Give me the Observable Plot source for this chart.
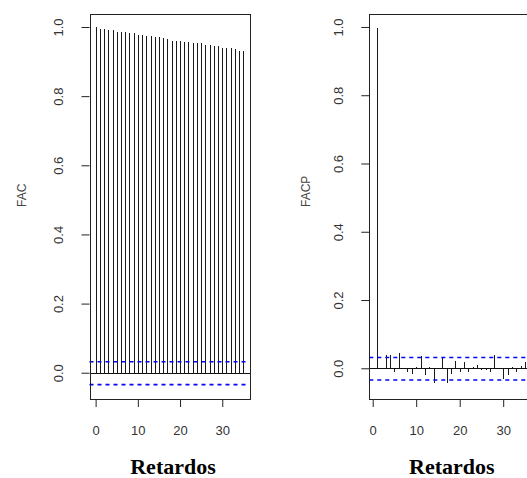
<!DOCTYPE html>
<html><head><meta charset="utf-8">
<script src="https://cdn.jsdelivr.net/npm/d3@7"></script>
<script src="https://cdn.jsdelivr.net/npm/@observablehq/plot@0.6"></script>
<style>
html,body{margin:0;padding:0;background:#fff;overflow:hidden;}
#wrap{position:relative;width:527px;height:478px;overflow:hidden;}
#wrap svg{position:absolute;top:0;}
</style></head><body><div id="wrap"></div>
<script>
const acfLags = d3.range(0, 36);
const acfValues = [1.000, 0.993, 0.993, 0.990, 0.990, 0.986, 0.986, 0.985, 0.982, 0.982,
  0.978, 0.978, 0.975, 0.975, 0.970, 0.970, 0.968, 0.965, 0.960, 0.960,
  0.960, 0.957, 0.957, 0.953, 0.953, 0.953, 0.948, 0.948, 0.944, 0.944,
  0.939, 0.939, 0.939, 0.935, 0.932, 0.930];
const pacfLags = d3.range(1, 36);
const pacfValues = [0.998, 0.002, 0.039, 0.039, -0.010, 0.044, -0.003, -0.010, -0.017, 0.005,
  0.036, -0.020, 0.003, -0.044, 0.002, 0.031, -0.044, -0.017, 0.022, -0.012,
  0.019, -0.010, 0.005, 0.010, -0.005, -0.005, -0.010, 0.040, -0.002, -0.032,
  -0.020, 0.003, -0.010, 0.007, 0.017];
const ciBound = 0.033;
const xTicks = [0, 10, 20, 30];
const yTicks = [0, 0.2, 0.4, 0.6, 0.8, 1.0];
const panelLabels = ["FAC", "FACP"];
const xLabel = "Retardos";

function panel({lags, values, yLabel, width, left, marginLeft, marginRight, xDomain, yDomain, labelDx, xLabelDx}) {
  const data = lags.map((l, i) => ({lag: l, value: values[i]}));
  const svg = Plot.plot({
    width, height: 478,
    marginLeft, marginRight, marginTop: 14, marginBottom: 79,
    style: {fontFamily: "'Liberation Sans', Arial, sans-serif", fontSize: "12px", background: "white", color: "#222"},
    x: {domain: xDomain},
    y: {domain: yDomain},
    marks: [
      Plot.ruleX(data, {x: "lag", y1: 0, y2: "value", stroke: "#1a1a1a", strokeWidth: 1, shapeRendering: "crispEdges"}),
      Plot.ruleY([0], {stroke: "#111", shapeRendering: "crispEdges"}),
      Plot.ruleY([ciBound], {stroke: "#0000ff", strokeWidth: 1.6, strokeDasharray: "4,4"}),
      Plot.ruleY([-ciBound], {stroke: "#0000ff", strokeWidth: 1.6, strokeDasharray: "4,4"}),
      Plot.frame({stroke: "#222", shapeRendering: "crispEdges"}),
      Plot.axisX(xTicks, {tickSize: 8, tickPadding: 18, fontSize: 13, tickFormat: d => String(d), label: null, stroke: "#222", fill: "#333"}),
      Plot.axisY(yTicks, {tickSize: 8, tickRotate: -90, textAnchor: "middle", lineAnchor: "middle", tickPadding: 23, fontSize: 13, tickFormat: d3.format(".1f"), label: null, stroke: "#222", fill: "#333"}),
      Plot.text([yLabel], {frameAnchor: "left", dx: labelDx, rotate: -90, text: d => d, fontSize: 12, fill: "#444"}),
      Plot.text([xLabel], {frameAnchor: "bottom", dx: xLabelDx, dy: 74, lineAnchor: "bottom", text: d => d, fontFamily: "'Liberation Serif', 'Times New Roman', serif", fontWeight: "bold", fontSize: 22, fill: "#000"})
    ]
  });
  svg.style.left = left + "px";
  return svg;
}

const wrap = document.getElementById("wrap");
wrap.appendChild(panel({lags: acfLags, values: acfValues, yLabel: panelLabels[0], width: 263, left: 0,
  marginLeft: 89.5, marginRight: 13.5, xDomain: [-1.45, 36.45], yDomain: [-0.076, 1.0376], labelDx: -67.5, xLabelDx: 3}));
wrap.appendChild(panel({lags: pacfLags, values: pacfValues, yLabel: panelLabels[1], width: 270, left: 263,
  marginLeft: 106.3, marginRight: 3.7, xDomain: [-0.78, 36.0], yDomain: [-0.09, 1.038], labelDx: -64, xLabelDx: 2}));
</script></body></html>
